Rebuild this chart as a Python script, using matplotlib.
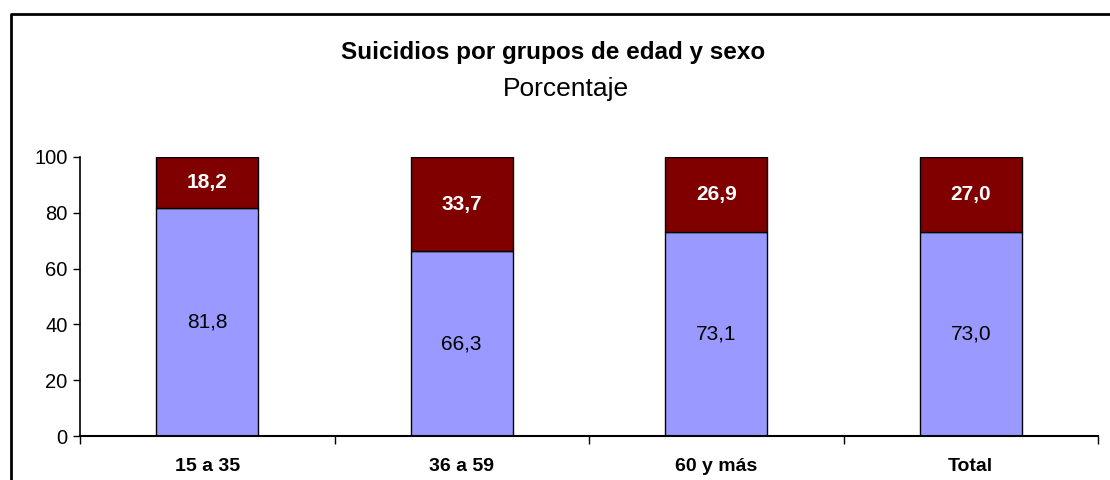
import matplotlib.pyplot as plt
from matplotlib.lines import Line2D

plt.rcParams['font.family'] = ['Liberation Sans', 'DejaVu Sans']

# Data
grupos = ['15 a 35', '36 a 59', '60 y más', 'Total']
hombres = [81.8, 66.3, 73.1, 73.0]
mujeres = [18.2, 33.7, 26.9, 27.0]

fig = plt.figure(figsize=(11.1, 4.8), dpi=100)
ax = fig.add_axes([80 / 1110, 44 / 480, 1018 / 1110, 279 / 480])

x = range(len(grupos))
ax.bar(x, hombres, width=0.4, color='#9999FF', edgecolor='black', linewidth=1)
ax.bar(x, mujeres, bottom=hombres, width=0.4, color='#800000',
       edgecolor='black', linewidth=1)

for i in x:
    ax.text(i, hombres[i] / 2, f"{hombres[i]:.1f}".replace('.', ','),
            ha='center', va='center', fontsize=15, color='black')
    ax.text(i, hombres[i] + mujeres[i] / 2, f"{mujeres[i]:.1f}".replace('.', ','),
            ha='center', va='center', fontsize=15, color='white', fontweight='bold')

ax.set_xlim(-0.5, len(grupos) - 0.5)
ax.set_ylim(0, 100)
ax.set_yticks(range(0, 101, 20))
ax.tick_params(axis='y', labelsize=14.5, length=5, width=1, direction='out', pad=4)

# category labels centered, ticks at category borders
ax.set_xticks([i - 0.5 for i in range(len(grupos) + 1)])
ax.set_xticklabels([])
ax.tick_params(axis='x', length=6, width=1, direction='out')
for i, g in enumerate(grupos):
    ax.text(i, -11, g, ha='center', va='center', fontsize=14, fontweight='bold')

for s in ['top', 'right']:
    ax.spines[s].set_visible(False)
ax.spines['left'].set_linewidth(1.2)
ax.spines['bottom'].set_linewidth(1.5)

fig.text(553 / 1110, 1 - 53 / 480, 'Suicidios por grupos de edad y sexo',
         ha='center', va='center', fontsize=17.5, fontweight='bold')
fig.text(566 / 1110, 1 - 89 / 480, 'Porcentaje', ha='center', va='center', fontsize=19)

# chart frame (only left and top edges visible)
fig.add_artist(Line2D([11 / 1110, 11 / 1110, 1.0], [0.0, 1 - 14 / 480, 1 - 14 / 480],
                      color='black', linewidth=2))

fig.savefig('out.png', dpi=100)
